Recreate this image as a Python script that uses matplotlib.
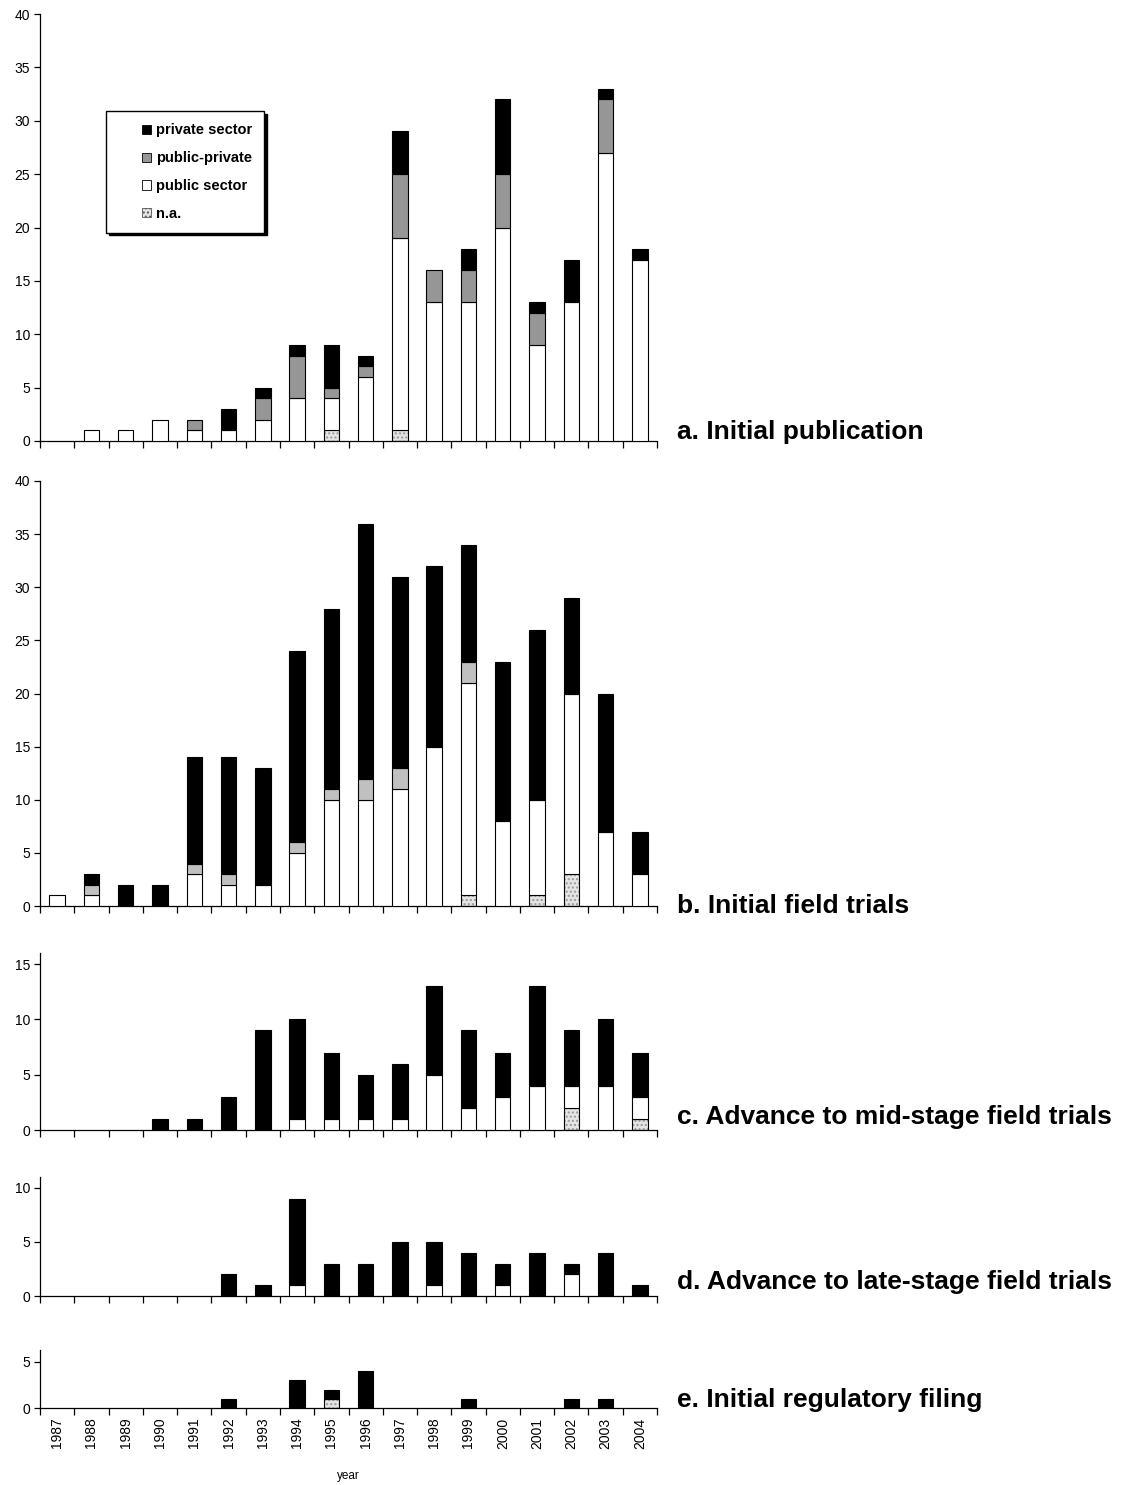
import numpy as np
import matplotlib
matplotlib.use("Agg")
import matplotlib.pyplot as plt
from matplotlib.patches import Patch, Rectangle
from matplotlib.legend_handler import HandlerPatch

years = list(range(1987, 2005))

# a. Initial publication
na_a = [0, 0, 0, 0, 0, 0, 0, 0, 1, 0, 1, 0, 0, 0, 0, 0, 0, 0]
pub_a = [0, 1, 1, 2, 1, 1, 2, 4, 3, 6, 18, 13, 13, 20, 9, 13, 27, 17]
pp_a = [0, 0, 0, 0, 1, 0, 2, 4, 1, 1, 6, 3, 3, 5, 3, 0, 5, 0]
priv_a = [0, 0, 0, 0, 0, 2, 1, 1, 4, 1, 4, 0, 2, 7, 1, 4, 1, 1]

# b. Initial field trials
na_b = [0, 0, 0, 0, 0, 0, 0, 0, 0, 0, 0, 0, 1, 0, 1, 3, 0, 0]
pub_b = [1, 1, 0, 0, 3, 2, 2, 5, 10, 10, 11, 15, 20, 8, 9, 17, 7, 3]
pp_b = [0, 1, 0, 0, 1, 1, 0, 1, 1, 2, 2, 0, 2, 0, 0, 0, 0, 0]
priv_b = [0, 1, 2, 2, 10, 11, 11, 18, 17, 24, 18, 17, 11, 15, 16, 9, 13, 4]

# c. Advance to mid-stage field trials
na_c = [0, 0, 0, 0, 0, 0, 0, 0, 0, 0, 0, 0, 0, 0, 0, 2, 0, 1]
pub_c = [0, 0, 0, 0, 0, 0, 0, 1, 1, 1, 1, 5, 2, 3, 4, 2, 4, 2]
pp_c = [0] * 18
priv_c = [0, 0, 0, 1, 1, 3, 9, 9, 6, 4, 5, 8, 7, 4, 9, 5, 6, 4]

# d. Advance to late-stage field trials
na_d = [0] * 18
pub_d = [0, 0, 0, 0, 0, 0, 0, 1, 0, 0, 0, 1, 0, 1, 0, 2, 0, 0]
pp_d = [0] * 18
priv_d = [0, 0, 0, 0, 0, 2, 1, 8, 3, 3, 5, 4, 4, 2, 4, 1, 4, 1]

# e. Initial regulatory filing
na_e = [0, 0, 0, 0, 0, 0, 0, 0, 1, 0, 0, 0, 0, 0, 0, 0, 0, 0]
pub_e = [0] * 18
pp_e = [0] * 18
priv_e = [0, 0, 0, 0, 0, 1, 0, 3, 1, 4, 0, 0, 1, 0, 0, 1, 1, 0]

panel_titles = ["a. Initial publication", "b. Initial field trials",
                "c. Advance to mid-stage field trials",
                "d. Advance to late-stage field trials",
                "e. Initial regulatory filing"]

TICK_FONT = ["Liberation Sans Narrow", "Liberation Sans", "DejaVu Sans"]
BOLD_FONT = ["Liberation Sans", "DejaVu Sans"]

W, H = 1121, 1485
fig = plt.figure(figsize=(W / 100, H / 100), dpi=100)


def px_axes(top, bottom, left=40, right=657):
    # axes rect from pixel positions of the reference
    return fig.add_axes([left / W, 1 - bottom / H, (right - left) / W, (bottom - top) / H])


def stacked(ax, na, pub, pp, priv, pp_color):
    x = np.arange(len(years))
    bw = 0.45
    base = np.zeros(len(years))
    segs = [(na, "na"), (pub, "white"), (pp, pp_color), (priv, "black")]
    for vals, col in segs:
        v = np.array(vals, dtype=float)
        m = v > 0
        if col == "na":
            # dotted fill, then black outline
            ax.bar(x[m], v[m], bw, bottom=base[m], color="#e4e4e4",
                   hatch="....", edgecolor="#9a9a9a", linewidth=0, zorder=2)
            ax.bar(x[m], v[m], bw, bottom=base[m], fill=False,
                   edgecolor="black", linewidth=0.8, zorder=3)
        else:
            ax.bar(x[m], v[m], bw, bottom=base[m], color=col,
                   edgecolor="black", linewidth=0.8, zorder=3)
        base += v


def style(ax, ymax, yticks, show_years=False):
    ax.set_xlim(-0.5, len(years) - 0.5)
    ax.set_ylim(0, ymax)
    for s in ["top", "right"]:
        ax.spines[s].set_visible(False)
    ax.spines["left"].set_linewidth(0.9)
    ax.spines["bottom"].set_linewidth(0.9)
    ax.set_yticks(yticks)
    ax.tick_params(axis="y", direction="out", length=4, width=0.9, pad=3, labelsize=10)
    ax.set_xticks(np.arange(-0.5, len(years), 1.0))
    ax.set_xticklabels([])
    ax.tick_params(axis="x", which="major", direction="out", length=5, width=0.9)
    if show_years:
        ax.set_xticks(np.arange(len(years)), minor=True)
        ax.set_xticklabels([str(y) for y in years], minor=True, rotation=90,
                           fontsize=10, family=TICK_FONT)
        ax.tick_params(axis="x", which="minor", length=0, pad=7)
    for lab in ax.get_yticklabels():
        lab.set_family(TICK_FONT)


def small_square(legend, orig_handle, xdescent, ydescent, width, height, fontsize):
    s = 0.62 * fontsize
    return Rectangle((width - s - 2, (height - s) / 2 - ydescent), s, s)


panels = [
    (14, 441, na_a, pub_a, pp_a, priv_a, "#969696", 40, range(0, 41, 5), 439),
    (481, 906, na_b, pub_b, pp_b, priv_b, "#c0c0c0", 40, range(0, 41, 5), 913),
    (953, 1130, na_c, pub_c, pp_c, priv_c, "#c0c0c0", 16, [0, 5, 10, 15], 1124),
    (1177, 1296, na_d, pub_d, pp_d, priv_d, "#c0c0c0", 11, [0, 5, 10], 1289),
    (1350, 1408, na_e, pub_e, pp_e, priv_e, "#c0c0c0", 6.3, [0, 5], 1407),
]

axes = []
for i, (top, bot, na, pub, pp, priv, ppc, ymax, yt, txt_y) in enumerate(panels):
    ax = px_axes(top, bot)
    stacked(ax, na, pub, pp, priv, ppc)
    style(ax, ymax, yt, show_years=(i == len(panels) - 1))
    fig.text(677 / W, 1 - txt_y / H, panel_titles[i], fontsize=19,
             fontweight="bold", family=BOLD_FONT, va="baseline", ha="left")
    axes.append(ax)

axes[-1].set_xlabel("year", fontsize=8.5, family=TICK_FONT, labelpad=15)

# legend in panel a
handles = [Patch(facecolor="black", edgecolor="black", linewidth=0.6, label="private sector"),
           Patch(facecolor="#969696", edgecolor="black", linewidth=0.6, label="public-private"),
           Patch(facecolor="white", edgecolor="black", linewidth=0.6, label="public sector"),
           Patch(facecolor="#e4e4e4", edgecolor="#555555", hatch="....", linewidth=0.6, label="n.a.")]
leg = axes[0].legend(handles=handles, loc="upper left", bbox_to_anchor=(0.107, 0.773),
                     borderaxespad=0, frameon=True, fancybox=False,
                     shadow={"color": "black", "alpha": 1.0},
                     edgecolor="black", framealpha=1, handlelength=2.5,
                     handleheight=1.0, handletextpad=0.15, labelspacing=0.92,
                     borderpad=0.8, prop={"family": TICK_FONT, "weight": "bold", "size": 10.5},
                     handler_map={Patch: HandlerPatch(patch_func=small_square)})
leg.get_frame().set_linewidth(1.0)

fig.savefig("out.png", dpi=100)
